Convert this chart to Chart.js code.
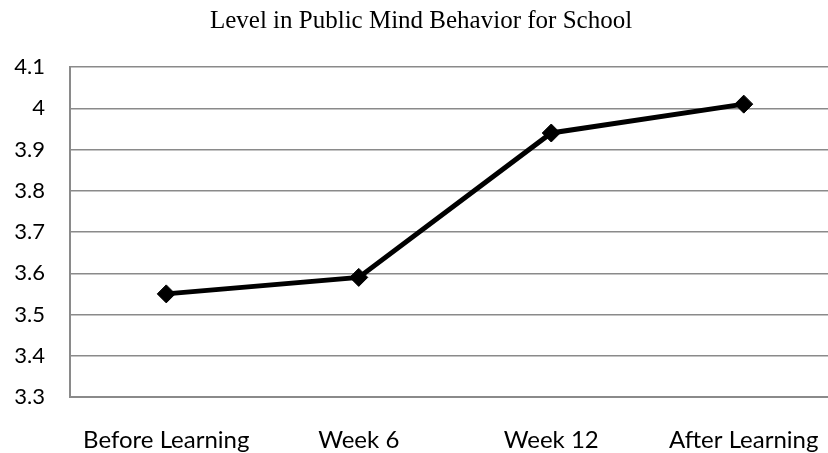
<!DOCTYPE html>
<html>
<head>
<meta charset="utf-8">
<script src="https://cdn.jsdelivr.net/npm/chart.js@4/dist/chart.umd.min.js"></script>
<style>
html,body{margin:0;padding:0;background:#fff;overflow:hidden;width:828px;height:453px;}
#wrap{width:850px;height:453px;}
</style>
</head>
<body>
<div id="wrap"><canvas id="c" width="850" height="453"></canvas></div>
<script>
const titleText = 'Level in Public Mind Behavior for School';
const categories = ['Before Learning', 'Week 6', 'Week 12', 'After Learning'];
const values = [3.55, 3.59, 3.94, 4.01];
const yMin = 3.3, yMax = 4.1, yStep = 0.1;

new Chart(document.getElementById('c'), {
  type: 'line',
  data: {
    labels: categories,
    datasets: [{
      data: values,
      borderColor: '#000',
      backgroundColor: '#000',
      borderWidth: 5,
      tension: 0,
      pointStyle: 'rectRot',
      pointRadius: 9,
      pointBorderWidth: 1,
      pointBackgroundColor: '#000',
      pointBorderColor: '#000'
    }]
  },
  options: {
    responsive: false,
    animation: false,
    devicePixelRatio: 1,
    layout: {padding: {left: 0, right: 8, top: 0, bottom: 0}},
    plugins: {
      legend: {display: false},
      tooltip: {enabled: false},
      title: {
        display: true,
        text: titleText,
        color: '#000',
        font: {family: "'Liberation Serif', 'Times New Roman', serif", size: 25, weight: 'normal', lineHeight: 1.2},
        padding: {top: 6, bottom: 31}
      }
    },
    scales: {
      x: {
        type: 'category',
        offset: true,
        grid: {display: false, drawTicks: false},
        border: {display: true, color: '#8a8a8a', width: 2},
        ticks: {color: '#000', font: {family: "Lato, 'Open Sans', sans-serif", size: 24}, padding: 29, maxRotation: 0, autoSkip: false},
        afterFit: s => { s.height = 56; }
      },
      y: {
        min: yMin,
        max: yMax,
        grid: {color: '#8a8a8a', lineWidth: 1.5, drawTicks: false},
        border: {display: true, color: '#8a8a8a', width: 2},
        ticks: {
          stepSize: yStep,
          color: '#000',
          font: {family: "Lato, 'Open Sans', sans-serif", size: 22},
          padding: 25,
          callback: v => String(Math.round(v * 10) / 10)
        },
        afterFit: s => { s.width = 70; }
      }
    }
  }
});
</script>
</body>
</html>
